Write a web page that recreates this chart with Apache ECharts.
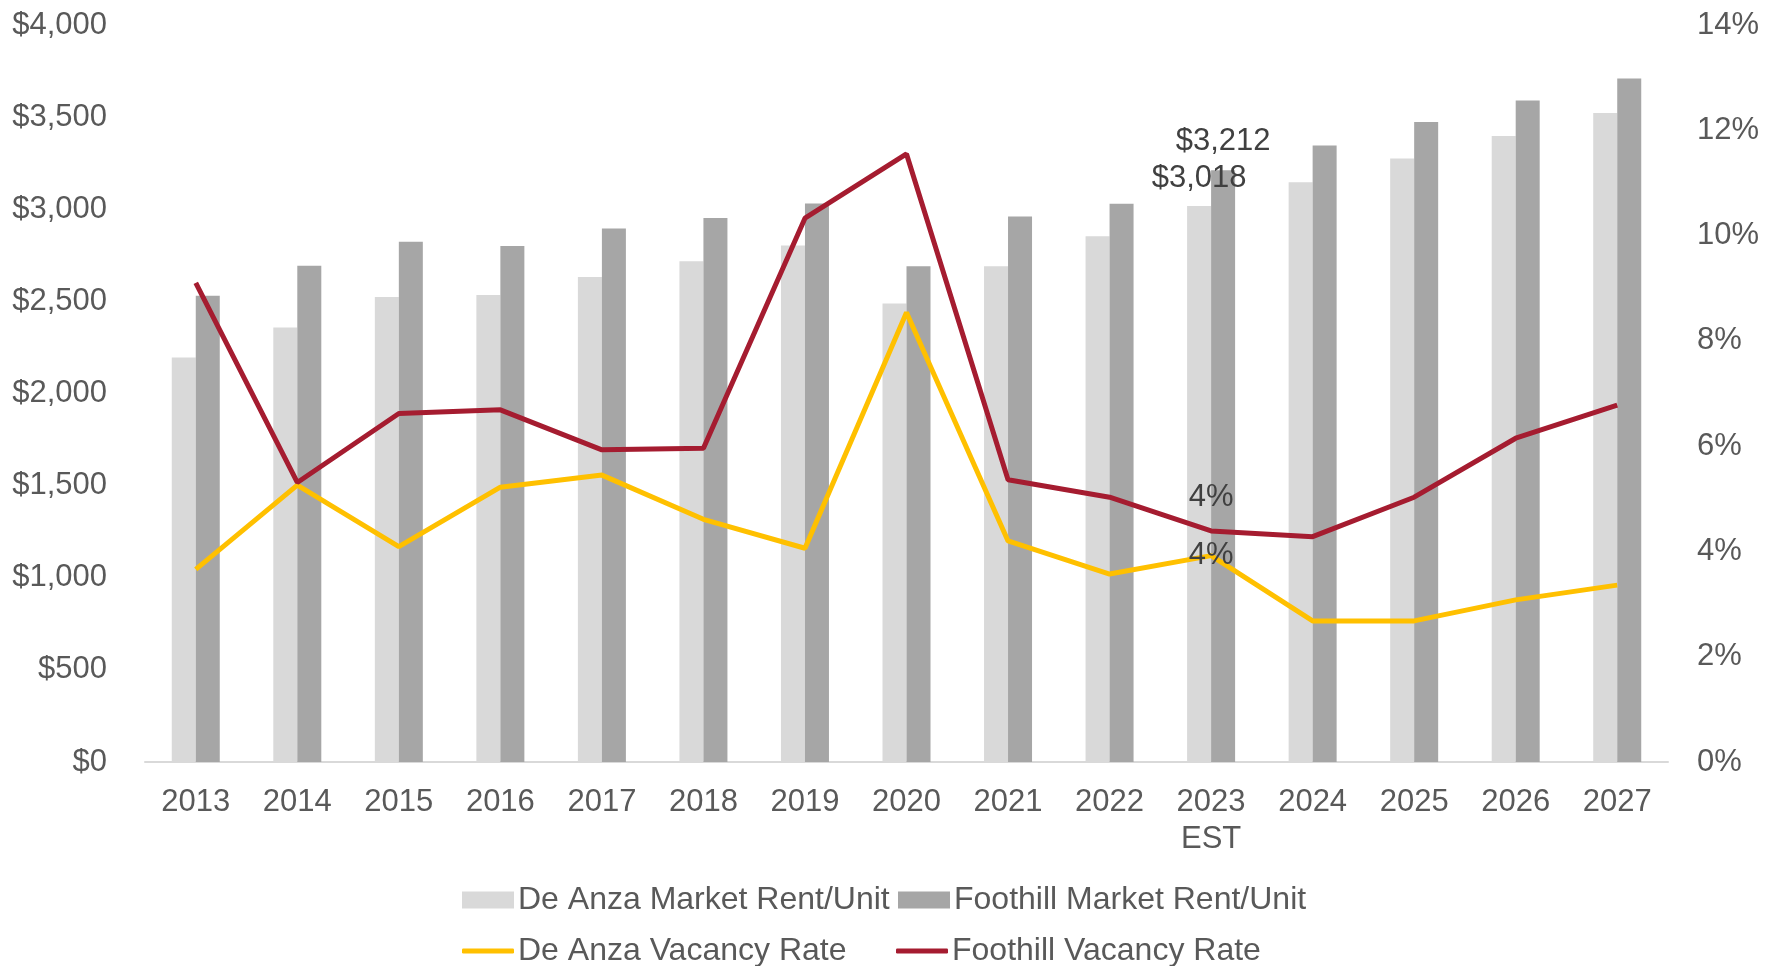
<!DOCTYPE html>
<html>
<head>
<meta charset="utf-8">
<script src="https://cdn.jsdelivr.net/npm/echarts@6/dist/echarts.min.js"></script>
<style>
  html, body { margin: 0; padding: 0; background: #fff; }
  #chart { width: 1768px; height: 966px; }
</style>
</head>
<body>
<div id="chart"></div>
<script>
// categories and values
var years = ['2013', '2014', '2015', '2016', '2017', '2018', '2019', '2020',
  '2021', '2022', '2023\nEST', '2024', '2025', '2026', '2027']
var deAnzaRent = [2195, 2358, 2524, 2535, 2632, 2718, 2803, 2488, 2690, 2853, 3018, 3146, 3276, 3398, 3522]
var foothillRent = [2530, 2693, 2823, 2800, 2896, 2952, 3031, 2690, 2961, 3030, 3212, 3346, 3474, 3590, 3709]
var deAnzaVacancy = [3.66, 5.26, 4.09, 5.22, 5.45, 4.61, 4.06, 8.54, 4.20, 3.57, 3.92, 2.68, 2.68, 3.08, 3.36]
var foothillVacancy = [9.10, 5.31, 6.62, 6.69, 5.93, 5.96, 10.33, 11.55, 5.36, 5.03, 4.39, 4.28, 5.03, 6.15, 6.78]
var labelIndex = 10 // only 2023 carries data labels

var fontFamily = 'Liberation Sans, Arial, sans-serif'
var labelColor = '#595959'

function money(v) {
  return '$' + Math.round(v).toString().replace(/\B(?=(\d{3})+(?!\d))/g, ',')
}

function withLabel(values, label) {
  return values.map(function(v, i) {
    if (i !== labelIndex) return v
    return { value: v, label: Object.assign({ show: true }, label) }
  })
}

var dataLabel = {
  fontSize: 31,
  fontFamily: fontFamily,
  color: '#404040'
}

// one legend per cell so the two columns line up like the original
function legendCell(name, left, top, isLine) {
  return {
    data: [name],
    left: left,
    top: top,
    padding: 0,
    itemWidth: 52,
    itemHeight: isLine ? 5 : 17,
    icon: isLine ? 'roundRect' : 'rect',
    textStyle: { fontSize: 32, color: labelColor, padding: [0, 0, 0, -1] }
  }
}

var chart = echarts.init(document.getElementById('chart'))
chart.setOption({
  animation: false,
  backgroundColor: '#fff',
  textStyle: { fontFamily: fontFamily },
  grid: {
    left: 145,
    right: 100,
    top: 25,
    bottom: 204
  },
  legend: [
    legendCell('De Anza Market Rent/Unit', 462, 884, false),
    legendCell('Foothill Market Rent/Unit', 898, 884, false),
    legendCell('De Anza Vacancy Rate', 462, 935, true),
    legendCell('Foothill Vacancy Rate', 896, 935, true)
  ],
  xAxis: {
    type: 'category',
    data: years,
    axisLine: { lineStyle: { color: '#D9D9D9', width: 2 } },
    axisTick: { show: false },
    axisLabel: {
      color: labelColor,
      fontSize: 31,
      lineHeight: 37,
      margin: 22,
      interval: 0
    }
  },
  yAxis: [
    {
      type: 'value',
      min: 0,
      max: 4000,
      interval: 500,
      splitLine: { show: false },
      axisLine: { show: false },
      axisTick: { show: false },
      axisLabel: {
        color: labelColor,
        fontSize: 31,
        margin: 38,
        formatter: money
      }
    },
    {
      type: 'value',
      min: 0,
      max: 14,
      interval: 2,
      splitLine: { show: false },
      axisLine: { show: false },
      axisTick: { show: false },
      axisLabel: {
        color: labelColor,
        fontSize: 31,
        margin: 29,
        formatter: '{value}%'
      }
    }
  ],
  series: [
    {
      name: 'De Anza Market Rent/Unit',
      type: 'bar',
      data: withLabel(deAnzaRent, Object.assign({ position: 'top', distance: 12, formatter: function(p) { return money(p.value) } }, dataLabel)),
      barWidth: 24,
      barGap: '0%',
      itemStyle: { color: '#D9D9D9' }
    },
    {
      name: 'Foothill Market Rent/Unit',
      type: 'bar',
      data: withLabel(foothillRent, Object.assign({ position: 'top', distance: 13, formatter: function(p) { return money(p.value) } }, dataLabel)),
      barWidth: 24,
      itemStyle: { color: '#A6A6A6' }
    },
    {
      name: 'De Anza Vacancy Rate',
      type: 'line',
      yAxisIndex: 1,
      data: withLabel(deAnzaVacancy, Object.assign({ position: 'inside', formatter: function(p) { return Math.round(p.value) + '%' } }, dataLabel)),
      symbol: 'circle',
      symbolSize: 0,
      showSymbol: true,
      lineStyle: { color: '#FFC000', width: 5 },
      itemStyle: { color: '#FFC000' }
    },
    {
      name: 'Foothill Vacancy Rate',
      type: 'line',
      yAxisIndex: 1,
      data: withLabel(foothillVacancy, Object.assign({ position: 'top', distance: 18, formatter: function(p) { return Math.round(p.value) + '%' } }, dataLabel)),
      symbol: 'circle',
      symbolSize: 0,
      showSymbol: true,
      lineStyle: { color: '#A51C30', width: 5 },
      itemStyle: { color: '#A51C30' }
    }
  ]
})
</script>
</body>
</html>
